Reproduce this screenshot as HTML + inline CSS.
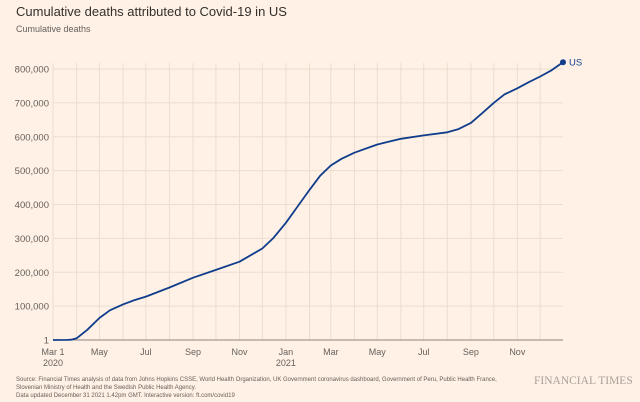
<!DOCTYPE html>
<html><head><meta charset="utf-8">
<style>
body{margin:0;background:#fff1e5;font-family:"Liberation Sans",sans-serif;}
#wrap{position:relative;width:640px;height:402px;background:#fff1e5;overflow:hidden}
.t{position:absolute;white-space:nowrap}
</style></head><body>
<div id="wrap">
<div class="t" style="left:16px;top:4px;font-size:13px;color:#33302e">Cumulative deaths attributed to Covid-19 in US</div>
<div class="t" style="left:16px;top:24px;font-size:9px;color:#66605c">Cumulative deaths</div>
<svg id="chart" width="640" height="402" style="position:absolute;left:0;top:0"></svg>
<div class="t" style="left:16px;top:376px;font-size:6px;line-height:8px;color:#66605c">Source: Financial Times analysis of data from Johns Hopkins CSSE, World Health Organization, UK Government coronavirus dashboard, Government of Peru, Public Health France,<br>Slovenian Ministry of Health and the Swedish Public Health Agency.<br>Data updated December 31 2021 1.42pm GMT. Interactive version: ft.com/covid19</div>
<div class="t" style="left:534px;top:375px;font-family:'Liberation Serif',serif;font-size:11.5px;color:#a9a19a">FINANCIAL TIMES</div>
</div>
<script>
const dates=["2020-03-01","2020-03-20","2020-03-25","2020-04-01","2020-04-15","2020-05-01","2020-05-15","2020-06-01","2020-06-15","2020-07-01","2020-08-01","2020-09-01","2020-10-01","2020-11-01","2020-12-01","2020-12-15","2021-01-01","2021-01-15","2021-02-01","2021-02-15","2021-03-01","2021-03-15","2021-04-01","2021-05-01","2021-06-01","2021-07-01","2021-08-01","2021-08-15","2021-09-01","2021-09-15","2021-10-01","2021-10-15","2021-11-01","2021-11-15","2021-12-01","2021-12-15","2021-12-31"];
const deaths=[0,200,1000,5000,30000,65000,88000,105000,117000,128000,155000,184000,207000,231000,270000,300000,346000,390000,443000,485000,515000,535000,553000,577000,594000,604000,613000,622000,641000,668000,700000,725000,743000,760000,778000,795000,820000];
const yTicks=[0,100000,200000,300000,400000,500000,600000,700000,800000];
const yTickLabels=["1","100,000","200,000","300,000","400,000","500,000","600,000","700,000","800,000"];
const xTickDates=["2020-03-01","2020-05-01","2020-07-01","2020-09-01","2020-11-01","2021-01-01","2021-03-01","2021-05-01","2021-07-01","2021-09-01","2021-11-01"];
const xTickLabels=["Mar 1","May","Jul","Sep","Nov","Jan","Mar","May","Jul","Sep","Nov"];
const xTickSub=["2020","","","","","2021","","","","",""];

const NS="http://www.w3.org/2000/svg";
const svg=document.getElementById('chart');
const t0=Date.parse("2020-03-01"),t1=Date.parse("2021-12-31");
const X0=53,X1=563,Y0=340,Y1=69;
function x(d){return X0+(Date.parse(d)-t0)/(t1-t0)*(X1-X0);}
function y(v){return Y0-v/800000*(Y0-Y1);}
function el(tag,attrs){const e=document.createElementNS(NS,tag);for(const k in attrs)e.setAttribute(k,attrs[k]);svg.appendChild(e);return e;}
for(let i=0;i<22;i++){
  const d=new Date(Date.UTC(2020,2+i,1)).toISOString().slice(0,10);
  const g=el('line',{x1:x(d),x2:x(d),y1:Y1-6,y2:Y0,stroke:'#ebddd0','stroke-width':1});
  
  
}
yTicks.forEach((v,i)=>{
  if(i>0){const g=el('line',{x1:X0,x2:X1,y1:y(v),y2:y(v),stroke:'#ebddd0','stroke-width':1});
  
  }
  const t=el('text',{x:X0-4,y:y(v)+3.5,'text-anchor':'end','font-size':'9.5','fill':'#66605c','font-family':'Liberation Sans, sans-serif'});
  t.textContent=yTickLabels[i];
  
  
});
const ax=el('line',{x1:X0,x2:X1,y1:Y0,y2:Y0,stroke:'#8c8580','stroke-width':1});


xTickDates.forEach((d,i)=>{
  const t=el('text',{x:x(d),y:Y0+15,'text-anchor':'middle','font-size':'9','fill':'#66605c','font-family':'Liberation Sans, sans-serif'});
  t.textContent=xTickLabels[i];
  
  
  if(xTickSub[i]){const s=el('text',{x:x(d),y:Y0+26,'text-anchor':'middle','font-size':'9','fill':'#66605c','font-family':'Liberation Sans, sans-serif'});
  s.textContent=xTickSub[i];
  
  }
});
const pts=dates.map((d,i)=>x(d).toFixed(1)+','+y(deaths[i]).toFixed(1)).join(' ');
const line=el('polyline',{points:pts,fill:'none',stroke:'#0f3d8c','stroke-width':1.8,'stroke-linejoin':'round'});


const n=dates.length-1;
const dot=el('circle',{cx:x(dates[n]),cy:y(deaths[n]),r:3,fill:'#0f3d8c'});


const lab=el('text',{x:x(dates[n])+6,y:y(deaths[n])+3.5,'font-size':'9.5','fill':'#0f3d8c','font-family':'Liberation Sans, sans-serif'});
lab.textContent='US';


</script>
</body></html>
